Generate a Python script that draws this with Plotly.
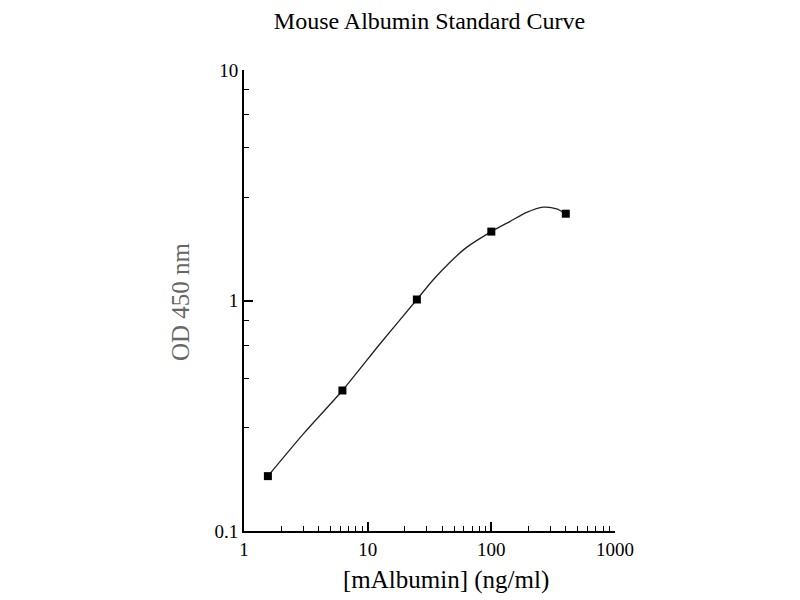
"""
Mouse albumin ELISA standard curve, log-log
"""
import plotly.graph_objects as go

# standards (ng/ml) and measured OD 450
conc = [1.56, 6.25, 25, 100, 400]
od = [0.173, 0.407, 1.01, 1.99, 2.38]

# fitted curve
curve_x = [1.56, 3.02, 6.25, 12.6, 25, 33.9, 46.3, 63.1, 100, 141, 193, 263, 337, 400]
curve_y = [0.173, 0.264, 0.407, 0.649, 1.01, 1.23, 1.466, 1.70, 1.99, 2.20, 2.41, 2.54, 2.50, 2.38]

x_minor = [2, 3, 4, 5, 6, 7, 8, 9, 20, 30, 40, 50, 60, 70, 80, 90,
           200, 300, 400, 500, 600, 700, 800, 900]
y_minor = [0.28, 0.46, 0.64, 0.82, 2.8, 4.6, 6.4, 8.2]

serif = "Liberation Serif, Times New Roman, serif"

fig = go.Figure()
fig.add_trace(go.Scatter(x=curve_x, y=curve_y, mode="lines",
                         line=dict(color="#222222", width=1.3, shape="spline",
                                   smoothing=0.7),
                         hoverinfo="skip"))
fig.add_trace(go.Scatter(x=conc, y=od, mode="markers",
                         marker=dict(symbol="square", size=8, color="black")))

axis_common = dict(type="log", showgrid=False, zeroline=False,
                   showline=True, linecolor="black", linewidth=2,
                   ticks="inside", ticklen=9, tickwidth=1.5, tickcolor="black",
                   tickfont=dict(family=serif, size=19, color="black"))

# page is drawn 8px in from the window corner
fig.update_layout(
    width=800, height=600,
    plot_bgcolor="white", paper_bgcolor="white",
    showlegend=False,
    margin=dict(l=236, r=193, t=62, b=77),
    title=dict(text="Mouse Albumin Standard Curve", x=(429.5 - 8) / 800, y=1,
               xanchor="center", yanchor="top", pad=dict(t=4),
               font=dict(family=serif, size=24, color="black")),
    xaxis=dict(axis_common, range=[0, 3],
               tickvals=[1, 10, 100, 1000], ticktext=["1", "10", "100", "1000"],
               minor=dict(tickvals=x_minor, ticks="inside", ticklen=5,
                          tickwidth=1.2, tickcolor="black")),
    yaxis=dict(axis_common, range=[-1, 1],
               tickvals=[0.1, 1, 10], ticktext=["0.1", "1", "10"],
               minor=dict(tickvals=y_minor, ticks="inside", ticklen=5,
                          tickwidth=1.2, tickcolor="black")),
    annotations=[
        dict(text="[mAlbumin] (ng/ml)", xref="paper", yref="paper",
             x=(446 - 244) / 371, y=-(580 - 531) / 461,
             xanchor="center", yanchor="middle", showarrow=False,
             font=dict(family=serif, size=25, color="black")),
        dict(text="OD 450 nm", xref="paper", yref="paper",
             x=-(244 - 180) / 371, y=(531 - 302) / 461, textangle=-90,
             xanchor="center", yanchor="middle", showarrow=False,
             font=dict(family=serif, size=25, color="#666666")),
    ],
)

fig.write_html("out.html")
